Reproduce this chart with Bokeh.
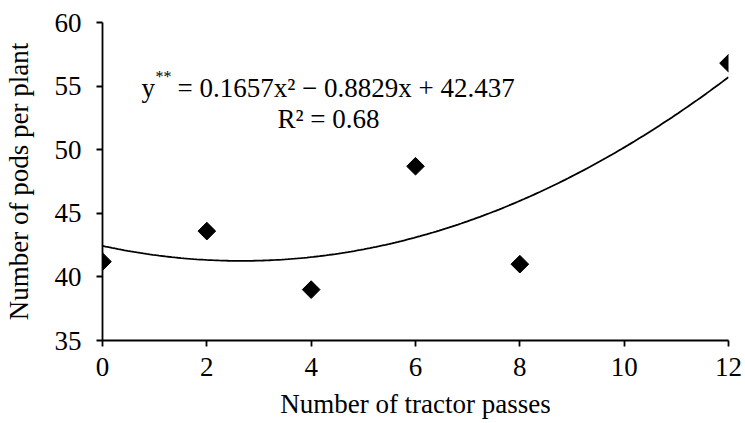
import numpy as np
from bokeh.plotting import figure
from bokeh.models import Label, FixedTicker, Range1d
from bokeh.embed import file_html
from bokeh.resources import INLINE

# Data
passes = [0, 2, 4, 6, 8, 12]
pods = [41.2, 43.6, 39.0, 48.7, 41.0, 56.8]
coef_a, coef_b, coef_c = 0.1657, -0.8829, 42.437
x_ticks = [0, 2, 4, 6, 8, 10, 12]
y_ticks = [35, 40, 45, 50, 55, 60]

FONT = "Liberation Serif"
FS = "27px"
FL, FT = 102, 22  # frame left / top in canvas pixels
FH = 318

p = figure(width=745, height=423, output_backend="svg", toolbar_location=None,
           x_range=Range1d(0, 12), y_range=Range1d(35, 60),
           min_border_left=FL, min_border_right=17, min_border_top=FT, min_border_bottom=61,
           frame_width=626, frame_height=FH)
p.outline_line_color = None
p.xgrid.visible = False
p.ygrid.visible = False
p.background_fill_color = "white"
p.border_fill_color = "white"

xc = np.linspace(0, 12, 200)
yc = coef_a * xc**2 + coef_b * xc + coef_c
p.line(xc, yc, line_color="black", line_width=1.8)
p.scatter(passes, pods, marker="square", angle=np.pi / 4, size=12.5,
          fill_color="black", line_color="black")

for ax in (p.xaxis[0], p.yaxis[0]):
    ax.axis_line_color = "black"
    ax.axis_line_width = 1.8
    ax.major_tick_line_color = "black"
    ax.major_tick_line_width = 1.8
    ax.major_tick_in = 0
    ax.major_tick_out = 6
    ax.minor_tick_line_color = None
    ax.major_label_text_font = FONT
    ax.major_label_text_font_size = FS
    ax.major_label_text_color = "black"
    ax.axis_label_text_font = FONT
    ax.axis_label_text_font_size = FS
    ax.axis_label_text_font_style = "normal"
    ax.axis_label_text_color = "black"

p.xaxis.ticker = FixedTicker(ticks=x_ticks)
p.yaxis.ticker = FixedTicker(ticks=y_ticks)
p.xaxis.axis_label = "Number of tractor passes"
p.yaxis.axis_label = "Number of pods per plant"
p.yaxis.major_label_standoff = 15
p.xaxis.major_label_standoff = 11
p.xaxis.axis_label_standoff = 10
p.yaxis.axis_label_standoff = 18


def sx(px):
    return px - FL


def sy(py):
    return FT + FH - py


common = dict(x_units="screen", y_units="screen", text_font=FONT,
              text_color="black", text_baseline="alphabetic")
p.add_layout(Label(x=sx(141), y=sy(87), text="y", text_font_size=FS, **common))
p.add_layout(Label(x=sx(155), y=sy(76), text="**", text_font_size="16px", **common))
p.add_layout(Label(x=sx(177), y=sy(87), text="= 0.1657x\u00b2 \u2212 0.8829x + 42.437",
                   text_font_size=FS, **common))
p.add_layout(Label(x=sx(328), y=sy(118), text="R\u00b2 = 0.68", text_align="center",
                   text_font_size=FS, **common))

open("out.html", "w").write(file_html(p, INLINE))
